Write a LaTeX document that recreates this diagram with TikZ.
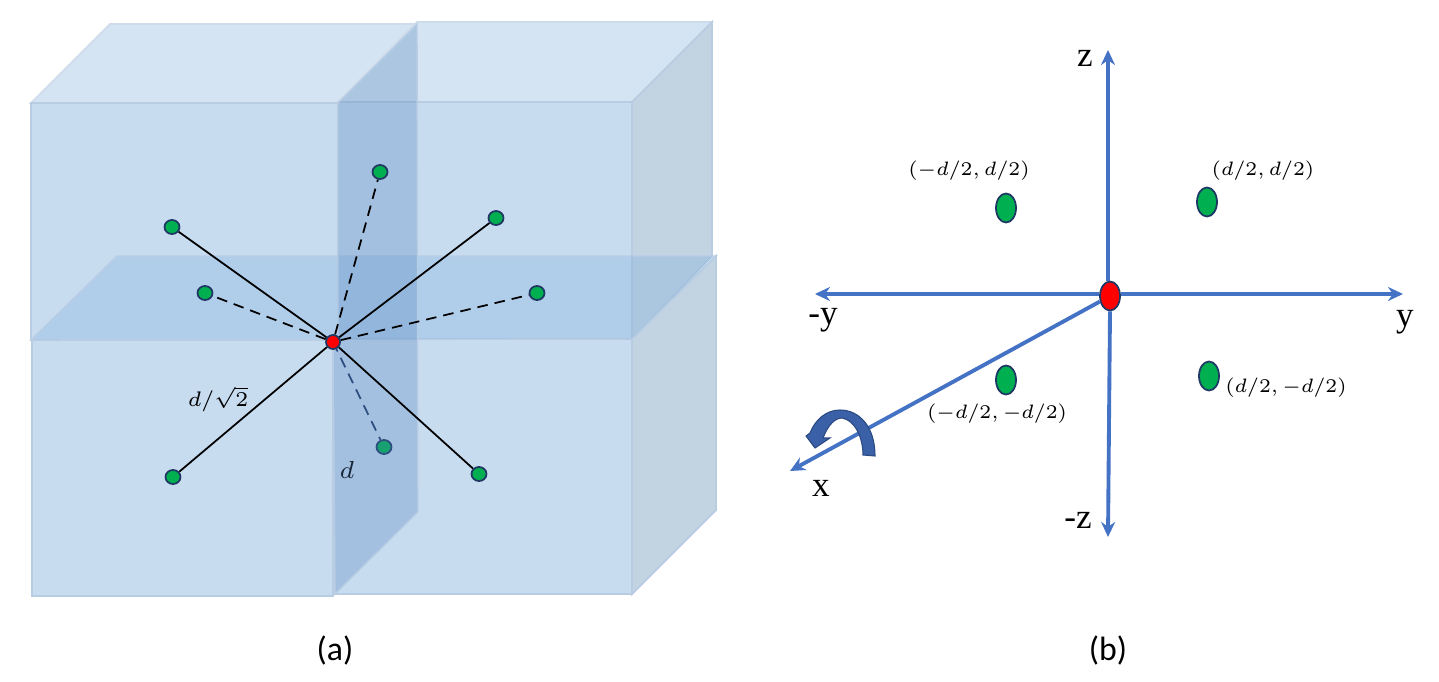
\documentclass[tikz,border=0pt]{standalone}
\usepackage{fontspec}
\setmainfont{Carlito}
\newfontfamily\axisfont{Liberation Serif}
\usetikzlibrary{shapes.geometric,arrows.meta}
\definecolor{frontblue}{HTML}{C8DCF0}
\definecolor{topblue}{HTML}{D5E4F3}
\definecolor{sideblue}{HTML}{C2D3E2}
\definecolor{edgeblue}{HTML}{B8CCE2}
\definecolor{axisblue}{HTML}{4472C4}
\definecolor{dotgreen}{HTML}{00B050}
\definecolor{dotedge}{HTML}{1F3864}
\definecolor{planeone}{HTML}{5B9BD5}
\definecolor{planetwo}{HTML}{4F81BD}
\tikzset{
	front/.style={draw=edgeblue,fill=frontblue,line width=.5pt},
	top/.style={draw=edgeblue!70,fill=topblue,line width=.5pt},
	side/.style={draw=edgeblue,fill=sideblue,line width=.5pt},
	plane/.style={draw=planetwo!40,fill=planeone,fill opacity=.22,line width=.4pt},
	wall/.style={draw=planetwo!40,fill=planetwo,fill opacity=.3,line width=.4pt},
	greendot/.style={draw=dotedge,fill=dotgreen,ellipse,inner sep=0,line width=.5pt,minimum width=.15cm,minimum height=.14cm},
	bigdot/.style={greendot,minimum width=.2cm,minimum height=.29cm},
	reddot/.style={draw=dotedge,fill=red,ellipse,inner sep=0,line width=.5pt,minimum width=.14cm,minimum height=.14cm},
	bond/.style={black,line width=.5pt},
	axis/.style={axisblue,line width=1.1pt,-{Stealth[length=.15cm,width=.14cm]}},
	mathlabel/.style={font=\fontsize{6}{8}\selectfont,scale=.92,inner sep=0},
	axislabel/.style={font=\axisfont\fontsize{10}{11}\selectfont,inner sep=0},
	caption/.style={font=\fontsize{9.6}{11}\selectfont,inner sep=0}
}
\begin{document}
\begin{tikzpicture}[x=.01cm,y=-.01cm]
	\useasboundingbox (0,0) rectangle (1439,682);
	% cubes
	\draw[top] (338,103)--(417,24)--(110,24)--(31,103)--cycle;
	\draw[front] (31,103) rectangle (338,340);
	\draw[top] (338,102)--(417,22)--(712,22)--(632,102)--cycle;
	\draw[front] (338,102) rectangle (632,339);
	\draw[side] (632,102)--(712,22)--(712,256)--(632,339)--cycle;
	\draw[front] (333,339) rectangle (632,594);
	\draw[side] (632,339)--(716,256)--(716,510)--(632,594)--cycle;
	\draw[front] (32,340) rectangle (333,596);
	% planes
	\draw[plane] (31,340)--(117,256)--(716,256)--(632,339)--cycle;
	\coordinate (c) at (333,342);
	\node[greendot] (a7) at (384,447){};
	\draw[bond,densely dashed,dotedge] (c)--(a7);
	\node[inner sep=0,font=\fontsize{7}{8}\selectfont] (dlab) at (347,470){$d$};
	\draw[wall] (338,103)--(417,24)--(418,512)--(335,594)--(333,340)--(338,340)--cycle;
	% points of panel (a)
	\node[reddot] (ca) at (c){};
	\node[greendot] (a1) at (172,227){};
	\node[greendot] (a2) at (496,218){};
	\node[greendot] (a3) at (173,477){};
	\node[greendot] (a4) at (479,474){};
	\node[greendot] (a5) at (380,172){};
	\node[greendot] (a6) at (205,293){};
	\node[greendot] (a8) at (537,293){};
	\foreach \i in {1,2,3,4}{
		\draw[bond] (ca)--(a\i);
	}
	\foreach \i in {5,6,8}{
		\draw[bond,densely dashed] (ca)--(a\i);
	}
	\node[inner sep=0,font=\fontsize{6}{8}\selectfont] (dsq) at (218,399){$d/\sqrt{2}$};
	\node[caption] (capa) at (335,650){(a)};
	% panel (b)
	\node[reddot,minimum width=.2cm,minimum height=.29cm] (cb) at (1110,296){};
	\coordinate (zp) at (1108,50);
	\coordinate (zm) at (1108,537);
	\coordinate (yp) at (1403,294);
	\coordinate (ym) at (815,294);
	\coordinate (xp) at (790,471);
	\draw[axis] (zp|-cb.north)--(zp);
	\draw[axis] (cb.south)--(zm);
	\draw[axis] (cb.east|-yp)--(yp);
	\draw[axis] (cb.west|-ym)--(ym);
	\draw[axis] (cb)--(xp);
	\node[bigdot] (b1) at (1006,208){};
	\node[bigdot] (b2) at (1207,202){};
	\node[bigdot] (b3) at (1006,380){};
	\node[bigdot] (b4) at (1209,376){};
	\node[mathlabel] (lab1) at (969,171){$(-d/2,d/2)$};
	\node[mathlabel] (lab2) at (1263,171){$(d/2,d/2)$};
	\node[mathlabel] (lab3) at (997,414){$(-d/2,-d/2)$};
	\node[mathlabel] (lab4) at (1286,388){$(d/2,-d/2)$};
	\node[axislabel] (zplab) at (1085,58){z};
	\node[axislabel] (ymlab) at (823,320){-y};
	\node[axislabel] (yplab) at (1405,322){y};
	\node[axislabel] (xplab) at (821,488){x};
	\node[axislabel] (zmlab) at (1078,520){-z};
	% rotation arrow
	\draw[dotedge!70!axisblue,fill=axisblue!85!black,line width=.3pt]
		(875,456) .. controls (875,425) and (858,410) .. (840,410)
		.. controls (826,410) and (815,420) .. (810,433)
		-- (806,436) -- (815,448) -- (830,438) -- (823,438)
		.. controls (828,425) and (835,418) .. (842,418)
		.. controls (855,420) and (863,438) .. (863,455) -- cycle;
	\node[caption] (capb) at (1108,650){(b)};
\end{tikzpicture}
\end{document}
